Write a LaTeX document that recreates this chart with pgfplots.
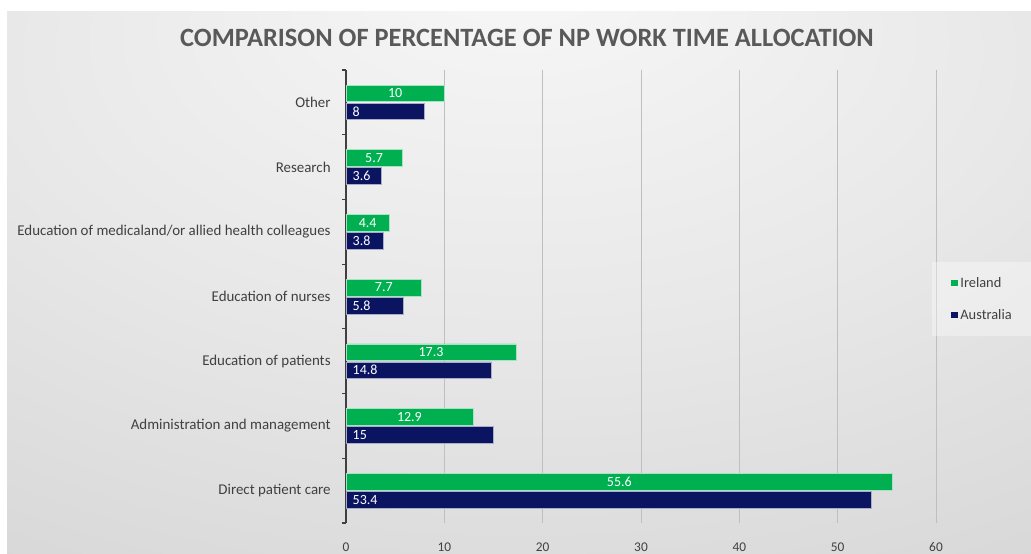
\documentclass[border=0pt]{standalone}
\usepackage{pgfplots}
\pgfplotsset{compat=1.18}
\usepackage{fontspec}
\setmainfont{Carlito}

\definecolor{ireland}{HTML}{00B050}
\definecolor{australia}{HTML}{0B1460}
\definecolor{txt}{HTML}{404040}
\definecolor{ttl}{HTML}{595959}

% grey backdrop, lighter towards the top centre
\pgfdeclareradialshading{bgshade}{\pgfpoint{0bp}{30bp}}{%
  color(0bp)=(white!97!black); color(25bp)=(white!91!black);
  color(55bp)=(white!82!black); color(80bp)=(white!76!black)}

\begin{document}
\begin{tikzpicture}[x=0.75pt,y=0.75pt]
\fill[white] (0,0) rectangle (1031,553);
\shade[shading=bgshade] (7,0) rectangle (1031,541);
\node[font=\bfseries\fontsize{19.8}{22}\selectfont, text=ttl] at (527,515)
  {COMPARISON OF PERCENTAGE OF NP WORK TIME ALLOCATION};

\begin{axis}[
  at={(259.5pt,22.5pt)}, anchor=south west,
  scale only axis, width=442.5pt, height=339.75pt,
  xbar, bar width=12.5pt,
  xmin=0, xmax=60, ymin=-0.5, ymax=6.5,
  axis lines*=left,
  x axis line style={draw=none},
  y axis line style={draw=black!75, line width=0.9pt},
  tick align=outside,
  major tick length=3pt,
  xtick={0,10,...,60},
  x tick style={draw=none},
  xmajorgrids,
  major x grid style={color=black!25, line width=0.6pt},
  x tick label style={font=\fontsize{10}{12}\selectfont, text=txt, yshift=-8pt},
  /pgf/number format/assume math mode=true,
  ytick={-0.5,0.5,...,6.5}, yticklabels={},
  y tick style={draw=black!75, line width=0.8pt},
  extra y ticks={0,1,2,3,4,5,6},
  extra y tick labels={Direct patient care, Administration and management,
    Education of patients, Education of nurses,
    Education of medicaland/or allied health colleagues, Research, Other},
  extra y tick style={major tick length=0pt, ymajorgrids=false,
    tick style={draw=none},
    yticklabel style={font=\fontsize{11.2}{13}\selectfont, text=txt, anchor=east, xshift=-8pt}},
  legend style={at={(0.993,0.576)}, anchor=north west, draw=none,
    fill=white, fill opacity=0.35, text opacity=1,
    font=\fontsize{10.8}{12}\selectfont, text=txt,
    row sep=11pt, inner xsep=14pt, inner ysep=9pt},
  legend cell align=left,
  legend image code/.code={\fill[#1,draw=none,fill opacity=1] (0pt,-2.6pt) rectangle (5.2pt,2.6pt);},
  reverse legend,
]

% Australia (lower bar of each pair), label at the inner left end
\addplot[fill=australia, draw=white!65!australia, line width=0.4pt, bar shift=-6.75pt,
  nodes near coords,
  visualization depends on=rawx \as \rawx,
  every node near coord/.append style={shift={(axis direction cs:-\rawx,0)},
    anchor=west, xshift=1.5pt, text=white, font=\fontsize{10.5}{12}\selectfont}]
  coordinates {(53.4,0) (15,1) (14.8,2) (5.8,3) (3.8,4) (3.6,5) (8,6)};
\addlegendentry{Australia}

% Ireland (upper bar), label centred
\addplot[fill=ireland, draw=white!65!ireland, line width=0.4pt, bar shift=6.75pt,
  nodes near coords,
  visualization depends on=rawx \as \rawx,
  every node near coord/.append style={shift={(axis direction cs:-\rawx/2,0)},
    anchor=center, text=white, font=\fontsize{10.5}{12}\selectfont}]
  coordinates {(55.6,0) (12.9,1) (17.3,2) (7.7,3) (4.4,4) (5.7,5) (10,6)};
\addlegendentry{Ireland}

\end{axis}
\pgfresetboundingbox
\useasboundingbox (0,0) rectangle (1031,553);
\end{tikzpicture}
\end{document}
